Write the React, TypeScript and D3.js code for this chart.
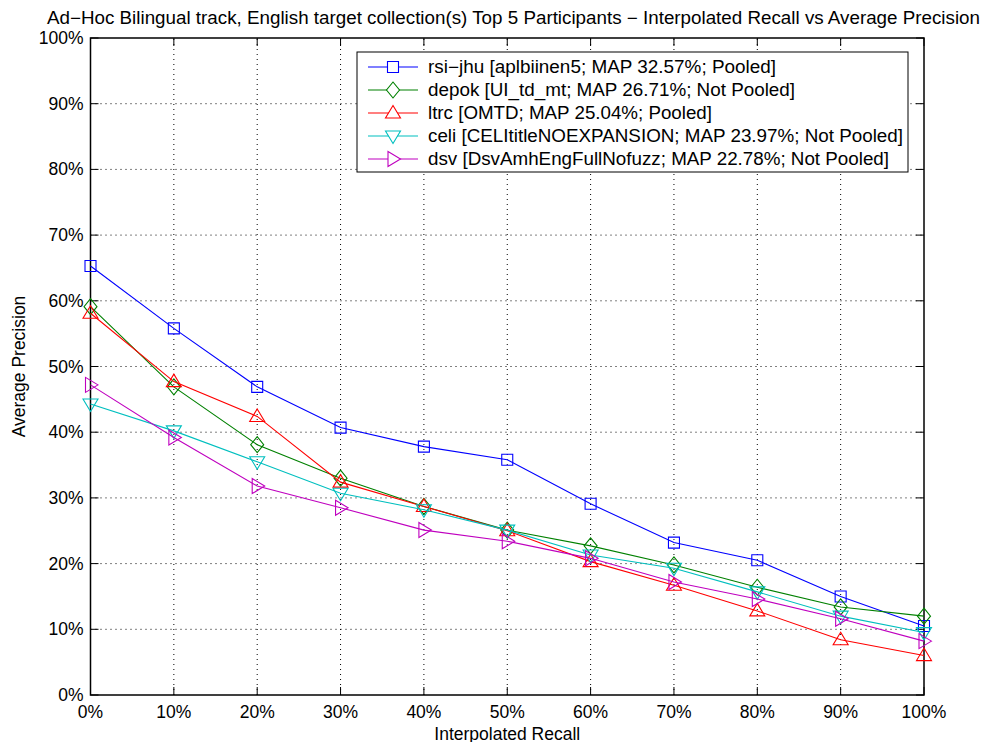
import React from "react";
import * as d3 from "d3";

const recallLevels = [0, 10, 20, 30, 40, 50, 60, 70, 80, 90, 100];
const xTicks = [0, 10, 20, 30, 40, 50, 60, 70, 80, 90, 100];
const yTicks = [0, 10, 20, 30, 40, 50, 60, 70, 80, 90, 100];

const rsiJhu = [65.3, 55.8, 46.9, 40.7, 37.8, 35.8, 29.1, 23.2, 20.5, 15.0, 10.5];
const depok = [59.1, 46.9, 38.1, 33.0, 28.7, 25.1, 22.7, 19.8, 16.4, 13.4, 12.0];
const ltrc = [58.1, 47.7, 42.4, 32.4, 28.7, 25.0, 20.3, 16.7, 12.8, 8.4, 6.0];
const celi = [44.3, 40.2, 35.5, 30.7, 28.2, 25.1, 21.3, 19.3, 15.7, 12.0, 9.5];
const dsv = [47.2, 39.2, 31.8, 28.5, 25.1, 23.4, 20.8, 17.2, 14.6, 11.6, 8.2];

const seriesNames = [
  "rsi\u2212jhu [aplbiinen5; MAP 32.57%; Pooled]",
  "depok [UI_td_mt; MAP 26.71%; Not Pooled]",
  "ltrc [OMTD; MAP 25.04%; Pooled]",
  "celi [CELItitleNOEXPANSION; MAP 23.97%; Not Pooled]",
  "dsv [DsvAmhEngFullNofuzz; MAP 22.78%; Not Pooled]",
];
const seriesValues = [rsiJhu, depok, ltrc, celi, dsv];
const seriesColors = ["#0000ff", "#008000", "#ff0000", "#00bfbf", "#bf00bf"];
const seriesMarkers = ["square", "diamond", "triUp", "triDown", "triRight"];
// rendered text widths (layout)
const legendTextWidths = [348, 367, 284, 475, 461];

const title = "Ad\u2212Hoc Bilingual track, English target collection(s) Top 5 Participants \u2212 Interpolated Recall vs Average Precision";
const xLabel = "Interpolated Recall";
const yLabel = "Average Precision";

const W = 983;
const H = 742;
const M = { left: 90.5, right: 59, top: 38, bottom: 47 };
const FONT = "'Liberation Sans', Arial, Helvetica, sans-serif";
const FS = 17.5;

function markerPath(type: string, cx: number, cy: number): string {
  switch (type) {
    case "square":
      return `M${cx - 5.5},${cy - 5.5}h11v11h-11Z`;
    case "diamond":
      return `M${cx},${cy - 8}L${cx + 6.5},${cy}L${cx},${cy + 8}L${cx - 6.5},${cy}Z`;
    case "triUp":
      return `M${cx},${cy - 7.5}L${cx + 7.5},${cy + 5}L${cx - 7.5},${cy + 5}Z`;
    case "triDown":
      return `M${cx},${cy + 7.5}L${cx + 7.5},${cy - 5}L${cx - 7.5},${cy - 5}Z`;
    case "triRight":
      return `M${cx + 7.5},${cy}L${cx - 5},${cy + 7.5}L${cx - 5},${cy - 7.5}Z`;
  }
  return `M${cx - 6},${cy}h12`;
}

export default function App() {
  const x = d3.scaleLinear().domain([0, 100]).range([M.left, W - M.right]);
  const y = d3.scaleLinear().domain([0, 100]).range([H - M.bottom, M.top]);
  const line = d3
    .line<number>()
    .x((_, i) => x(recallLevels[i]))
    .y((d) => y(d));

  const x0 = x(0), x1 = x(100), y0 = y(0), y1 = y(100);
  const legX = 357, legY = 52, legW = 551, legH = 120, rowH = 23;

  return (
    <svg
      width={W}
      height={H}
      style={{ position: "absolute", left: 0, top: 0, background: "#fff" }}
      fontFamily={FONT}
    >
      <rect x={0} y={0} width={W} height={H} fill="#fff" />
      {/* grid */}
      {xTicks.slice(1, -1).map((t) => (
        <line key={"gx" + t} x1={x(t)} x2={x(t)} y1={y0} y2={y1} stroke="#000" strokeWidth={1} strokeDasharray="1,4" />
      ))}
      {yTicks.slice(1, -1).map((t) => (
        <line key={"gy" + t} x1={x0} x2={x1} y1={y(t)} y2={y(t)} stroke="#000" strokeWidth={1} strokeDasharray="1,4" />
      ))}
      {/* ticks inside */}
      {xTicks.map((t) => (
        <g key={"tx" + t}>
          <line x1={x(t)} x2={x(t)} y1={y0} y2={y0 - 8} stroke="#000" />
          <line x1={x(t)} x2={x(t)} y1={y1} y2={y1 + 8} stroke="#000" />
          <text x={x(t)} y={y0 + 23} textAnchor="middle" fontSize={FS}>{t + "%"}</text>
        </g>
      ))}
      {yTicks.map((t) => (
        <g key={"ty" + t}>
          <line x1={x0} x2={x0 + 8} y1={y(t)} y2={y(t)} stroke="#000" />
          <line x1={x1} x2={x1 - 8} y1={y(t)} y2={y(t)} stroke="#000" />
          <text x={x0 - 7} y={y(t) + 6} textAnchor="end" fontSize={FS}>{t + "%"}</text>
        </g>
      ))}
      <rect x={x0} y={y1} width={x1 - x0} height={y0 - y1} fill="none" stroke="#000" strokeWidth={1.5} />
      {/* series */}
      {seriesValues.map((vals, si) => (
        <g key={"s" + si}>
          <path d={line(vals) || ""} fill="none" stroke={seriesColors[si]} strokeWidth={1.1} />
          {vals.map((v, i) => (
            <path key={i} d={markerPath(seriesMarkers[si], x(recallLevels[i]), y(v))} fill="none" stroke={seriesColors[si]} strokeWidth={1.1} />
          ))}
        </g>
      ))}
      {/* legend */}
      <rect x={legX} y={legY} width={legW} height={legH} fill="#fff" stroke="#000" strokeWidth={1} />
      {seriesNames.map((name, si) => {
        const cy = legY + 15 + si * rowH;
        return (
          <g key={"l" + si}>
            <line x1={legX + 11} x2={legX + 61} y1={cy} y2={cy} stroke={seriesColors[si]} strokeWidth={1.1} />
            <path d={markerPath(seriesMarkers[si], legX + 36, cy)} fill="#fff" stroke={seriesColors[si]} strokeWidth={1.1} />
            <text x={legX + 71} y={cy + 6} fontSize={FS} textLength={legendTextWidths[si]} lengthAdjust="spacingAndGlyphs">{name}</text>
          </g>
        );
      })}
      {/* labels */}
      <text x={47} y={24} fontSize={FS} textLength={933} lengthAdjust="spacingAndGlyphs">{title}</text>
      <text x={(x0 + x1) / 2} y={740} textAnchor="middle" fontSize={FS}>{xLabel}</text>
      <text transform={`translate(25,${(y0 + y1) / 2}) rotate(-90)`} textAnchor="middle" fontSize={FS}>{yLabel}</text>
    </svg>
  );
}
